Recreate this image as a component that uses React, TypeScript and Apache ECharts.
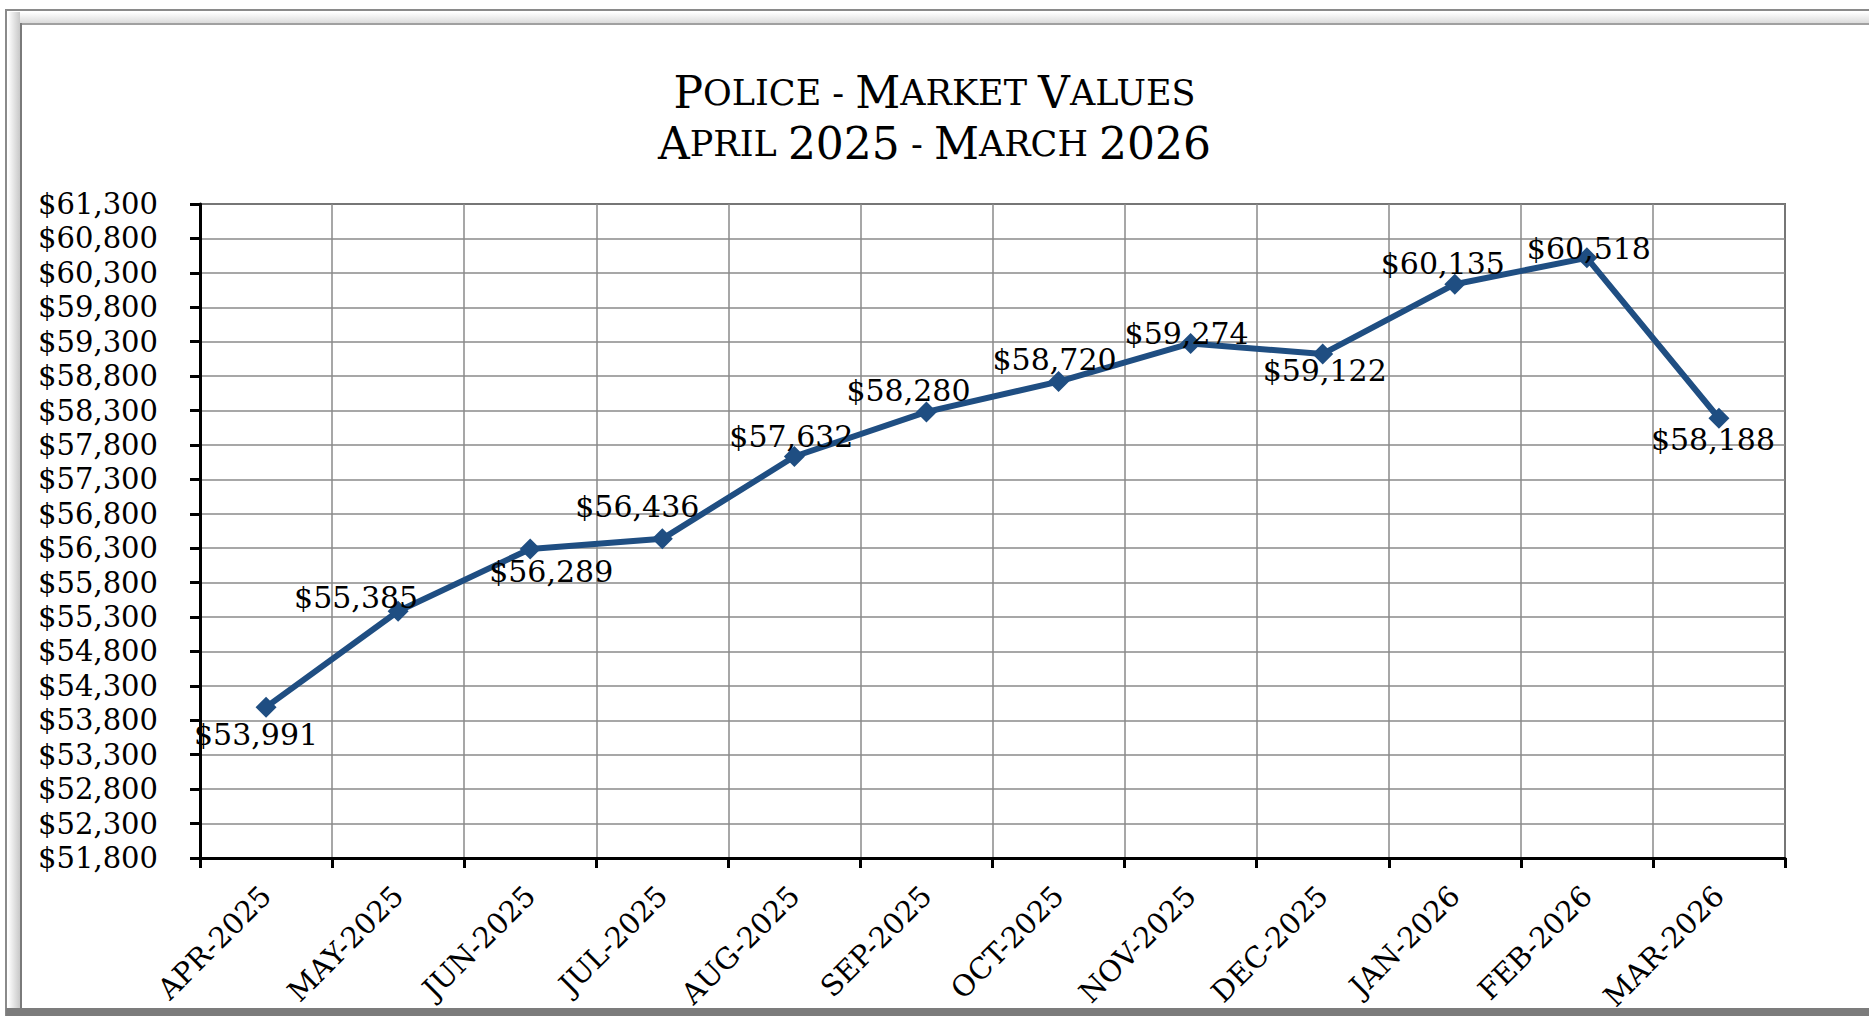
import React, { useEffect, useRef } from "react";
import * as echarts from "echarts";

const categories = [
  "APR-2025", "MAY-2025", "JUN-2025", "JUL-2025", "AUG-2025", "SEP-2025",
  "OCT-2025", "NOV-2025", "DEC-2025", "JAN-2026", "FEB-2026", "MAR-2026",
];
const marketValues = [53991, 55385, 56289, 56436, 57632, 58280, 58720, 59274, 59122, 60135, 60518, 58188];
const axisBase = 51800;
const axisTop = 61300;
const axisStep = 500;
// label offsets (pixels, relative to each point)
const labelOffsets = [
  [-10, 27], [-42, -14], [21, 23], [-25, -32], [-3, -20], [-18, -21],
  [-4, -22], [-4, -10], [2, 17], [-12, -21], [2, -9], [-6, 21],
];

const FONT = "DejaVu Serif";
const BLUE = "#1f4e82";
const money = (v: number) => "$" + v.toLocaleString("en-US");

export default function App() {
  const ref = useRef<HTMLDivElement>(null);
  useEffect(() => {
    document.body.style.margin = "0";
    const chart = echarts.init(ref.current!, null, { renderer: "svg" });
    chart.setOption({
      animation: false,
      backgroundColor: "#ffffff",
      title: {
        left: "center",
        top: 62,
        text:
          "{b|P}{s|OLICE - }{b|M}{s|ARKET }{b|V}{s|ALUES}\n{b|A}{s|PRIL }{b|2025}{s| - }{b|M}{s|ARCH }{b|2026}",
        textStyle: {
          fontWeight: "normal",
          rich: {
            b: { fontFamily: FONT, fontWeight: "normal", fontSize: 44, color: "#000", lineHeight: 51 },
            s: { fontFamily: FONT, fontWeight: "normal", fontSize: 35, color: "#000", lineHeight: 51 },
          },
        },
      },
      graphic: [
        { type: "rect", shape: { x: 8, y: 12, width: 1900, height: 12 }, style: { fill: new echarts.graphic.LinearGradient(0, 0, 0, 1, [{ offset: 0, color: "#ffffff" }, { offset: 1, color: "#d8d8d8" }]) }, silent: true },
        { type: "rect", shape: { x: 8, y: 12, width: 12, height: 1000 }, style: { fill: new echarts.graphic.LinearGradient(0, 0, 1, 0, [{ offset: 0, color: "#ffffff" }, { offset: 1, color: "#c8c8c8" }]) }, silent: true },
        { type: "rect", shape: { x: 6, y: 10, width: 1900, height: 1100 }, style: { fill: "none", stroke: "#8a8a8a", lineWidth: 2 }, silent: true },
        { type: "rect", shape: { x: 20, y: 23, width: 1900, height: 2 }, style: { fill: "#a0a0a0" }, silent: true },
        { type: "rect", shape: { x: 20, y: 23, width: 2, height: 990 }, style: { fill: "#7a7a7a" }, silent: true },
        { type: "rect", shape: { x: 6, y: 1008, width: 1900, height: 10 }, style: { fill: "#7c7c7c" }, silent: true },
      ],
      grid: {
        left: 200,
        right: 84,
        top: 204,
        bottom: 158,
        show: true,
        borderColor: "#000",
        borderWidth: 1.5,
        backgroundColor: "transparent",
        containLabel: false,
      },
      xAxis: {
        type: "category",
        data: categories,
        boundaryGap: true,
        axisLine: { show: true, lineStyle: { color: "#000", width: 3 } },
        axisTick: { show: true, length: 10, lineStyle: { color: "#000", width: 3 } },
        splitLine: { show: true, lineStyle: { color: "#8a8a8a", width: 1.5 } },
        axisLabel: {
          rotate: 45,
          interval: 0,
          margin: 33,
          fontFamily: FONT,
          fontSize: 29,
          color: "#000",
        },
      },
      yAxis: {
        type: "value",
        min: 0,
        max: axisTop - axisBase,
        interval: axisStep,
        axisLine: { show: true, lineStyle: { color: "#000", width: 3 } },
        axisTick: { show: true, length: 10, lineStyle: { color: "#000", width: 3 } },
        splitLine: { show: true, lineStyle: { color: "#8a8a8a", width: 1.5 } },
        axisLabel: {
          margin: 42,
          fontFamily: FONT,
          fontSize: 29,
          color: "#000",
          formatter: (v: number) => money(v + axisBase),
        },
      },
      series: [
        {
          type: "line",
          data: marketValues.map((v, i) => ({
            value: v - axisBase,
            label: { offset: labelOffsets[i] },
          })),
          symbol: "diamond",
          symbolSize: 21,
          lineStyle: { color: BLUE, width: 6 },
          itemStyle: { color: BLUE },
          label: {
            show: true,
            position: "inside",
            align: "center",
            verticalAlign: "middle",
            fontFamily: FONT,
            fontSize: 30,
            color: "#000",
            formatter: (p: any) => money(marketValues[p.dataIndex]),
          },
          z: 3,
        },
      ],
    });
    return () => chart.dispose();
  }, []);
  return <div ref={ref} style={{ width: 1869, height: 1016 }} />;
}
